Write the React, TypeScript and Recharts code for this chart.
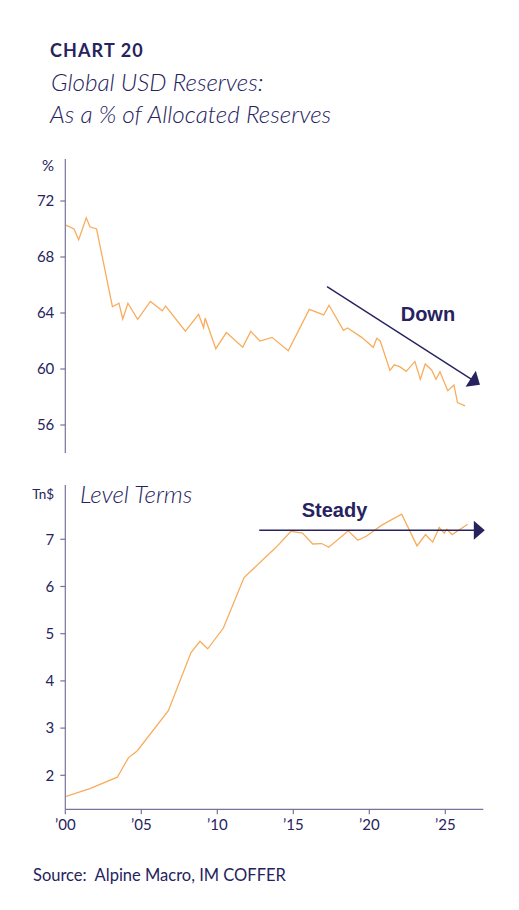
import React from 'react';
import { LineChart, Line, XAxis, YAxis, ReferenceLine } from 'recharts';

// Top panel: USD share of allocated reserves (%)
const shareYears = [2000.0, 2000.57, 2000.88, 2001.38, 2001.62, 2002.06, 2003.1, 2003.53, 2003.78, 2004.12, 2004.76, 2005.6, 2006.38, 2006.6, 2007.9, 2008.77, 2009.1, 2009.2, 2009.9, 2010.6, 2011.67, 2012.2, 2012.8, 2013.6, 2014.67, 2016.05, 2017.0, 2017.35, 2018.3, 2018.57, 2019.5, 2020.26, 2020.49, 2020.72, 2021.36, 2021.64, 2022.0, 2022.43, 2023.0, 2023.36, 2023.68, 2024.1, 2024.39, 2024.65, 2025.16, 2025.57, 2025.8, 2026.3];
const shareValues = [70.3, 70.0, 69.24, 70.8, 70.16, 70.0, 64.45, 64.7, 63.57, 64.7, 63.55, 64.83, 64.16, 64.5, 62.7, 63.9, 62.95, 63.64, 61.45, 62.6, 61.55, 62.69, 62.0, 62.26, 61.3, 64.26, 63.86, 64.55, 62.76, 62.93, 62.26, 61.55, 62.2, 62.0, 59.9, 60.3, 60.17, 59.83, 60.54, 59.26, 60.36, 59.93, 59.26, 59.8, 58.45, 58.86, 57.6, 57.36];

// Bottom panel: USD reserves in level terms (Tn$)
const levelYears = [2000.0, 2001.62, 2003.42, 2004.15, 2004.74, 2006.78, 2008.27, 2008.86, 2009.37, 2010.4, 2011.76, 2013.9, 2014.85, 2015.6, 2016.28, 2016.87, 2017.33, 2018.62, 2019.24, 2019.83, 2020.82, 2022.13, 2023.14, 2023.7, 2024.17, 2024.6, 2024.93, 2025.1, 2025.45, 2026.47];
const levelValues = [1.55, 1.72, 1.96, 2.37, 2.52, 3.37, 4.6, 4.84, 4.68, 5.12, 6.19, 6.84, 7.17, 7.13, 6.9, 6.91, 6.83, 7.18, 6.98, 7.07, 7.3, 7.53, 6.86, 7.1, 6.94, 7.25, 7.13, 7.21, 7.1, 7.32];

const xTicks = [2000, 2005, 2010, 2015, 2020, 2025];
const xTickLabels = ['\u201900', '\u201905', '\u201910', '\u201915', '\u201920', '\u201925'];
const shareTicks = [56, 60, 64, 68, 72];
const levelTicks = [2, 3, 4, 5, 6, 7];

// Annotation arrows (data coordinates)
const downArrow = [{ x: 2017.22, y: 65.88 }, { x: 2027.28, y: 58.88 }];
const steadyArrow = [{ x: 2012.76, y: 7.19 }, { x: 2027.6, y: 7.19 }];

const shareData = shareYears.map((x, i) => ({ x, v: shareValues[i] }));
const levelData = levelYears.map((x, i) => ({ x, v: levelValues[i] }));

const NAVY = '#26235e';
const AXIS = '#77749a';
const LINE = '#f8ad5c';
const FONT = 'Lato, "Noto Sans", sans-serif';

const ArrowShape = (props: any) => {
  const { x1, y1, x2, y2 } = props;
  const dx = x2 - x1;
  const dy = y2 - y1;
  const len = Math.sqrt(dx * dx + dy * dy) || 1;
  const ux = dx / len;
  const uy = dy / len;
  const headLen = 11;
  const half = 9.5;
  const bx = x2 - ux * headLen;
  const by = y2 - uy * headLen;
  const p1 = `${x2},${y2}`;
  const p2 = `${bx - uy * half},${by + ux * half}`;
  const p3 = `${bx + uy * half},${by - ux * half}`;
  return (
    <g>
      <line x1={x1} y1={y1} x2={bx + ux * 2} y2={by + uy * 2} stroke={NAVY} strokeWidth={1.4} />
      <polygon points={`${p1} ${p2} ${p3}`} fill={NAVY} />
    </g>
  );
};

const tickStyle = { fill: NAVY, fontSize: 15, fontFamily: FONT };

export default function App() {
  return (
    <div style={{ position: 'absolute', left: 0, top: 0, width: 519, height: 910, background: '#fff', overflow: 'hidden' }}>
      <div style={{ position: 'absolute', left: 0, top: 0 }}>
        <LineChart width={519} height={470} data={shareData} margin={{ top: 159, right: 35.7, left: 5.3, bottom: 17 }}>
          <XAxis dataKey="x" type="number" domain={[2000, 2027.5]} hide allowDataOverflow />
          <YAxis
            type="number"
            domain={[54, 75]}
            ticks={shareTicks}
            width={60}
            axisLine={{ stroke: AXIS, strokeWidth: 1.2 }}
            tickLine={{ stroke: AXIS, strokeWidth: 1.2 }}
            tickSize={5}
            tickMargin={6}
            tick={tickStyle}
            allowDataOverflow
          />
          <Line type="linear" dataKey="v" stroke={LINE} strokeWidth={1.3} dot={false} isAnimationActive={false} />
          <ReferenceLine segment={downArrow} ifOverflow="visible" shape={ArrowShape} />
        </LineChart>
      </div>
      <div style={{ position: 'absolute', left: 0, top: 470 }}>
        <LineChart width={519} height={380} data={levelData} margin={{ top: 15, right: 35.7, left: 5.3, bottom: 10.7 }}>
          <XAxis
            dataKey="x"
            type="number"
            domain={[2000, 2027.5]}
            ticks={xTicks}
            tickFormatter={(v: number) => xTickLabels[xTicks.indexOf(v)] ?? ''}
            height={30}
            axisLine={{ stroke: AXIS, strokeWidth: 1.2 }}
            tickLine={{ stroke: AXIS, strokeWidth: 1.2 }}
            tickSize={5}
            tickMargin={5}
            tick={tickStyle}
            allowDataOverflow
          />
          <YAxis
            type="number"
            domain={[1.28, 8.15]}
            ticks={levelTicks}
            width={60}
            axisLine={{ stroke: AXIS, strokeWidth: 1.2 }}
            tickLine={{ stroke: AXIS, strokeWidth: 1.2 }}
            tickSize={5}
            tickMargin={6}
            tick={tickStyle}
            allowDataOverflow
          />
          <Line type="linear" dataKey="v" stroke={LINE} strokeWidth={1.3} dot={false} isAnimationActive={false} />
          <ReferenceLine segment={steadyArrow} ifOverflow="visible" shape={ArrowShape} />
        </LineChart>
      </div>
      <svg width={519} height={910} style={{ position: 'absolute', left: 0, top: 0, pointerEvents: 'none' }}>
        <text x={50} y={57.3} fill={NAVY} fontFamily={FONT} fontWeight={700} fontSize={18} letterSpacing={1.1}>CHART 20</text>
        <text x={51} y={90.7} fill={NAVY} fontFamily={FONT} fontStyle="italic" fontWeight={300} fontSize={24.3}>Global USD Reserves:</text>
        <text x={50} y={123.3} fill={NAVY} fontFamily={FONT} fontStyle="italic" fontWeight={300} fontSize={24.3}>As a % of Allocated Reserves</text>
        <text x={54} y={170.7} fill={NAVY} fontFamily={FONT} fontSize={15} textAnchor="end">%</text>
        <text x={54} y={499.3} fill={NAVY} fontFamily={FONT} fontSize={13.5} textAnchor="end">Tn$</text>
        <text x={80} y={503.3} fill={NAVY} fontFamily={FONT} fontStyle="italic" fontWeight={300} fontSize={24.3}>Level Terms</text>
        <text x={400.7} y={320.7} fill={NAVY} fontFamily='"Liberation Sans", Arial, sans-serif' fontWeight={700} fontSize={20}>Down</text>
        <text x={301.7} y={517.3} fill={NAVY} fontFamily='"Liberation Sans", Arial, sans-serif' fontWeight={700} fontSize={20}>Steady</text>
        <text x={33} y={880.7} fill={NAVY} fontFamily={FONT} fontSize={16.5}>Source:{'\u00a0\u00a0'}Alpine Macro, IM COFFER</text>
      </svg>
    </div>
  );
}
